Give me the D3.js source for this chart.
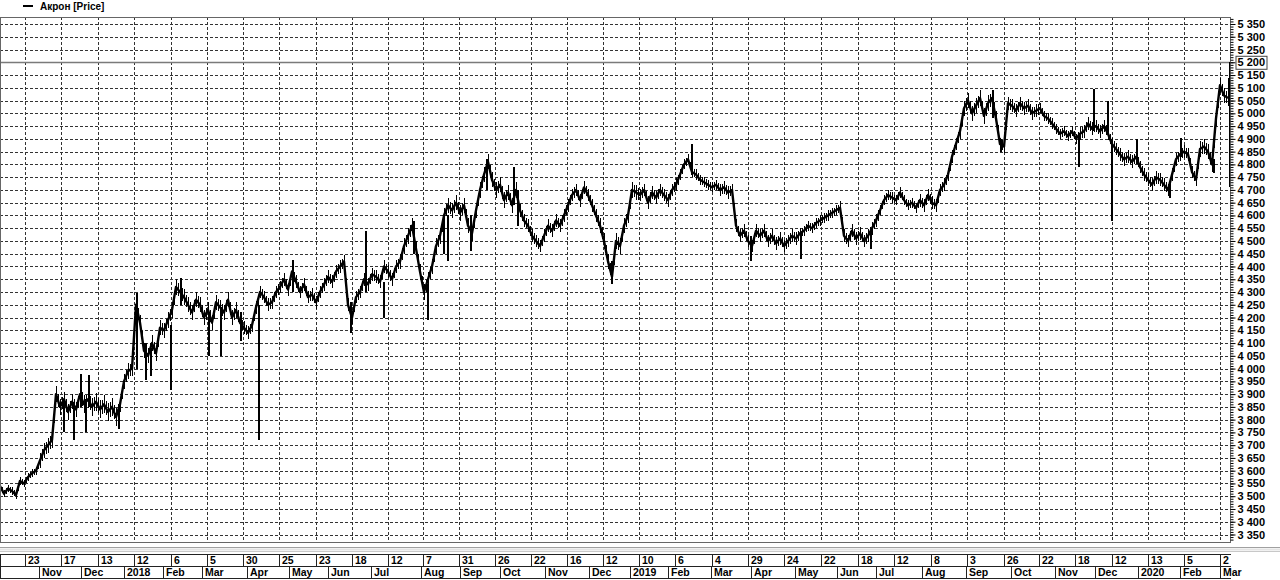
<!DOCTYPE html>
<html><head><meta charset="utf-8">
<script src="https://cdn.jsdelivr.net/npm/d3@7"></script>
<style>body{margin:0;background:#fff}svg{display:block}text{font-family:"Liberation Sans",Arial,sans-serif;font-weight:bold;fill:#000}</style>
</head><body><svg id="c" width="1280" height="580"></svg>
<script>
const seriesName = "Акрон [Price]";
// price per session index
const price = [
3540,3510,3530,3520,3505,3560,3550,3575,3590,3600,
3640,3680,3700,3720,3900,3850,3880,3830,3870,3840,
3900,3860,3880,3850,3870,3840,3860,3830,3850,3810,
3860,3950,3990,4000,4250,4180,4070,4050,4100,4060,
4160,4150,4190,4230,4320,4300,4280,4250,4220,4270,
4250,4200,4230,4180,4260,4240,4220,4270,4200,4230,
4180,4160,4140,4170,4240,4300,4280,4250,4260,4300,
4320,4350,4310,4380,4340,4300,4330,4280,4290,4260,
4300,4330,4360,4340,4380,4400,4420,4250,4200,4280,
4300,4350,4330,4370,4360,4340,4400,4380,4350,4400,
4420,4480,4520,4560,4470,4380,4300,4350,4400,4480,
4520,4600,4640,4620,4650,4610,4640,4560,4530,4620,
4700,4760,4810,4740,4700,4720,4660,4690,4640,4700,
4620,4580,4560,4520,4500,4480,4520,4560,4540,4580,
4560,4600,4640,4680,4700,4660,4710,4680,4640,4600,
4560,4500,4420,4360,4500,4480,4560,4600,4700,4690,
4680,4700,4650,4690,4670,4700,4680,4660,4700,4720,
4760,4800,4820,4770,4760,4740,4730,4720,4710,4720,
4700,4710,4690,4700,4560,4520,4540,4500,4480,4540,
4520,4540,4500,4520,4490,4510,4480,4500,4520,4510,
4530,4540,4560,4550,4570,4580,4590,4600,4610,4620,
4630,4520,4500,4540,4510,4530,4500,4520,4550,4580,
4620,4660,4680,4670,4660,4690,4660,4640,4650,4630,
4660,4640,4680,4650,4640,4700,4720,4760,4830,4880,
4930,5020,5050,5000,5030,5060,4990,5040,5060,4980,
4880,4870,5040,5030,5010,5040,5020,5030,5000,5010,
5020,4990,4980,4960,4940,4920,4930,4910,4930,4900,
4920,4930,4960,4940,4950,4930,4950,4920,4880,4860,
4840,4820,4830,4810,4830,4790,4760,4740,4720,4750,
4740,4720,4700,4760,4820,4840,4850,4840,4770,4740,
4860,4870,4850,4800,4980,5110,5070,5060
];
// typical intraday range (price units) for each block of 10 sessions
const blockRange = [30,60,70,60,60,60,50,50,50,50,60,60,60,50,50,60,50,40,50,50,40,50,40,50,60,50,40,50,50,50,60];
const spikeAt   = [15.75,18.25,20,21.25,22,29.5,34,36.25,37.5,42.5,45,52,55,60,64.5,73,87.5,91.25,95.75,103.25,106.75,110.75,111.75,117.5,121.5,128.25,129.25,152.75,172.75,187.5,200,217.5,248,250,269.5,273.25,276.75,277.75,284,292.25,295,303.25,307,307.25];
const spikeLow  = [3750,3720,3850,3750,3850,3765,4000,3955,3970,3915,4250,4050,4050,4110,3720,4300,4140,4300,4200,4450,4190,4450,4420,4460,4700,4640,4560,4330,4760,4420,4430,4470,4980,4850,4790,4930,4920,4580,4800,4670,4830,4765,5050,4710];
const spikeHigh = [3880,3870,3980,3880,3975,3850,4295,4100,4080,4170,4355,4220,4240,4220,4250,4425,4260,4540,4340,4580,4330,4580,4600,4600,4820,4790,4700,4420,4880,4520,4530,4540,5090,4900,4920,5095,5050,4900,4900,4720,4905,4820,5140,5200];

const dayTickAt = [6.25,15.25,24.4,33.6,42.7,51.7,60.8,69.8,78.9,88.1,96.9,105.7,114.75,123.75,132.75,141.75,150.7,159.7,168.8,178,187.1,196.1,205.25,214.6,223.5,232.75,241.8,251,259.8,268.8,278,287,296,305];
const dayTickLabels = ["23","17","13","12","6","5","30","25","23","18","12","7","31","26","22","16","12","10","6","4","29","24","22","18","12","8","3","26","22","18","12","13","5","2"];
const monthAt = [9.8,20.25,31.1,40.8,50.6,61.7,72.3,82.1,92.75,105.25,115,125,136.25,147.25,157.5,167,177.75,187.75,198.75,209.25,219,230.4,241.5,252.75,263.75,273.75,284.4,295,305];
const monthLabels = ["Nov","Dec","2018","Feb","Mar","Apr","May","Jun","Jul","Aug","Sep","Oct","Nov","Dec","2019","Feb","Mar","Apr","May","Jun","Jul","Aug","Sep","Oct","Nov","Dec","2020","Feb","Mar"];
const yTickValues = [3350,3400,3450,3500,3550,3600,3650,3700,3750,3800,3850,3900,3950,4000,4050,4100,4150,4200,4250,4300,4350,4400,4450,4500,4550,4600,4650,4700,4750,4800,4850,4900,4950,5000,5050,5100,5150,5200,5250,5300,5350];
const refLevel = 5200;

const svg = d3.select("#c");
const L = 0, R = 1231, T = 17, B = 542;
const x = d3.scaleLinear().domain([0, 307.75]).range([L, R]);
const y = d3.scaleLinear().domain([3350, 5350]).range([534.5, 24]);
const px = v => Math.round(v) + 0.5;

// legend
svg.append("line").attr("x1",23).attr("x2",33).attr("y1",6).attr("y2",6).attr("stroke","#000").attr("stroke-width",2);
svg.append("text").attr("x",40).attr("y",10).attr("font-size",10).text(seriesName);

// clip
svg.append("clipPath").attr("id","pc").append("rect").attr("x",L).attr("y",T).attr("width",R-L).attr("height",B-T);
const g = svg.append("g").attr("clip-path","url(#pc)");

// grid
g.selectAll("line.hg").data(yTickValues.filter(v=>v!==refLevel)).join("line")
  .attr("x1",L).attr("x2",R).attr("y1",d=>px(y(d))).attr("y2",d=>px(y(d)))
  .attr("stroke","#333").attr("stroke-dasharray","3,2").attr("shape-rendering","crispEdges");
g.selectAll("line.vg").data(dayTickAt).join("line")
  .attr("x1",d=>px(x(d))).attr("x2",d=>px(x(d))).attr("y1",T).attr("y2",B)
  .attr("stroke","#333").attr("stroke-dasharray","3,2").attr("shape-rendering","crispEdges");

// reference level
g.append("line").attr("x1",L).attr("x2",R).attr("y1",px(y(refLevel))).attr("y2",px(y(refLevel)))
  .attr("stroke","#7a7a7a").attr("stroke-width",1.5);

// intraday range bars at each session and between sessions
const bars = [];
price.forEach((v,i)=>{
  const r = blockRange[Math.floor(i/10)];
  bars.push({t:i, v:v, r:r});
  if (i < price.length-1) bars.push({t:i+0.5, v:(v+price[i+1])/2, r:r*0.8});
});
g.selectAll("line.rb").data(bars).join("line")
  .attr("x1",d=>px(x(d.t))).attr("x2",d=>px(x(d.t)))
  .attr("y1",d=>Math.round(y(d.v - d.r/2))).attr("y2",d=>Math.round(y(d.v + d.r/2)))
  .attr("stroke","#000").attr("stroke-width",1).attr("shape-rendering","crispEdges");

// series
const line = d3.line().x((d,i)=>x(i)).y(d=>y(d));
g.append("path").datum(price).attr("d",line).attr("fill","none").attr("stroke","#000")
  .attr("stroke-width",2.4).attr("stroke-linejoin","round");
g.selectAll("line.sp").data(spikeAt).join("line")
  .attr("x1",d=>px(x(d))).attr("x2",d=>px(x(d)))
  .attr("y1",(d,i)=>Math.round(y(spikeLow[i]))).attr("y2",(d,i)=>Math.round(y(spikeHigh[i])))
  .attr("stroke","#000").attr("stroke-width",2).attr("shape-rendering","crispEdges");

// border
svg.append("rect").attr("x",L+0.5).attr("y",T+0.5).attr("width",R-L-1).attr("height",B-T)
  .attr("fill","none").attr("stroke","#666");

// right axis
const fmt = v => { const s = String(v); return s.length>3 ? s.slice(0,-3)+" "+s.slice(-3) : s; };
const minor = svg.append("g").attr("transform",`translate(${R-0.5},0)`)
  .call(d3.axisRight(y).tickValues(d3.range(3330,5380,10)).tickSize(3).tickFormat(""));
minor.select(".domain").remove();
minor.selectAll("line").attr("stroke","#000");
const ax = svg.append("g").attr("transform",`translate(${R-0.5},0)`)
  .call(d3.axisRight(y).tickValues(yTickValues).tickSize(5).tickPadding(2).tickFormat(fmt));
ax.select(".domain").remove();
ax.selectAll("line").attr("stroke","#000");
ax.selectAll("text").attr("font-size",11).attr("fill","#000")
  .style("font-family","'Liberation Sans',Arial,sans-serif").style("font-weight","bold");
// boxed ref label
ax.selectAll(".tick").filter(d=>d===refLevel).each(function(){
  const t = d3.select(this).select("text").node().getBBox();
  d3.select(this).insert("rect","text").attr("x",Math.round(t.x)-1.5).attr("y",Math.round(t.y)-0.5)
    .attr("width",Math.round(t.width)+3).attr("height",Math.round(t.height)+1)
    .attr("fill","#fff").attr("stroke","#444");
});

// window separator
svg.append("line").attr("x1",0).attr("x2",1280).attr("y1",547.5).attr("y2",547.5).attr("stroke","#a0a0a0");
svg.append("line").attr("x1",0).attr("x2",1280).attr("y1",549.5).attr("y2",549.5).attr("stroke","#e4e4e4").attr("stroke-width",2);
svg.append("line").attr("x1",0).attr("x2",1280).attr("y1",551.5).attr("y2",551.5).attr("stroke","#c8c8c8");

// bottom time axis (two rows)
const ba = svg.append("g").attr("shape-rendering","crispEdges");
[554.5,566.5,578.5].forEach(yy=>ba.append("line").attr("x1",0).attr("x2",R).attr("y1",yy).attr("y2",yy).attr("stroke","#222"));
ba.append("line").attr("x1",0.5).attr("x2",0.5).attr("y1",554).attr("y2",579).attr("stroke","#222");
ba.selectAll("line.dt").data(dayTickAt).join("line")
  .attr("x1",d=>px(x(d))).attr("x2",d=>px(x(d))).attr("y1",554).attr("y2",567).attr("stroke","#222");
svg.selectAll("text.dl").data(dayTickAt).join("text").attr("class","dl")
  .attr("x",d=>Math.round(x(d))+3).attr("y",564).attr("font-size",10.5).text((d,i)=>dayTickLabels[i]);
ba.selectAll("line.mt").data(monthAt).join("line")
  .attr("x1",d=>px(x(d))).attr("x2",d=>px(x(d))).attr("y1",566).attr("y2",579).attr("stroke","#222");
svg.selectAll("text.ml").data(monthAt).join("text").attr("class","ml")
  .attr("x",d=>Math.round(x(d))+3).attr("y",576).attr("font-size",10.5).text((d,i)=>monthLabels[i]);
</script></body></html>
